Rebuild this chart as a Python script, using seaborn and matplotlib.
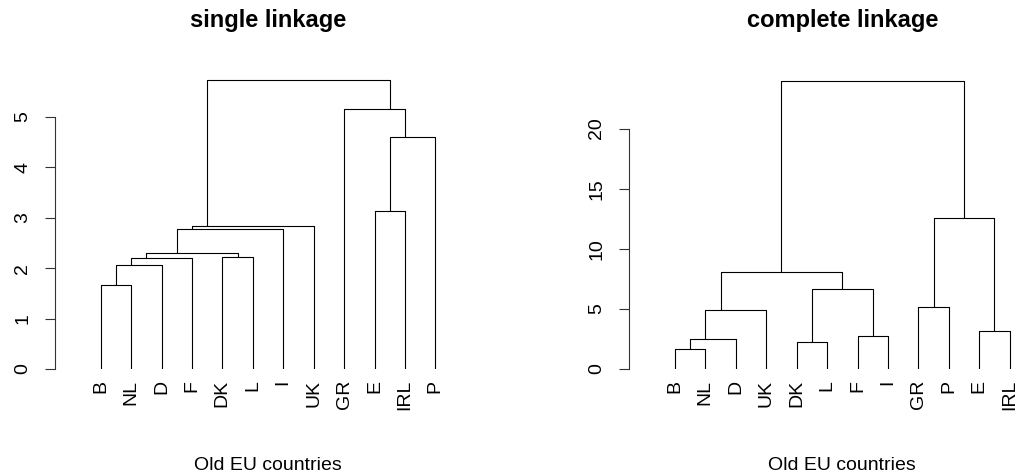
import pandas as pd
import matplotlib
matplotlib.use("Agg")
import matplotlib.pyplot as plt
import seaborn as sns

# ~~~~~~~~~~~~~~~~~~  DATA  ~~~~~~~~~~~~~~~~~~
single_labels = ["B", "NL", "D", "F", "DK", "L", "I", "UK", "GR", "E", "IRL", "P"]
# each merge joins two items: a leaf label or "m<k>" (k-th merge, 1-based)
single_left = ["B", "m1", "m2", "DK", "m3", "m5", "m6", "E", "m8", "GR", "m7"]
single_right = ["NL", "D", "F", "L", "m4", "I", "UK", "IRL", "P", "m9", "m10"]
single_height = [1.66, 2.06, 2.21, 2.22, 2.30, 2.77, 2.84, 3.14, 4.60, 5.16, 5.73]

complete_labels = ["B", "NL", "D", "UK", "DK", "L", "F", "I", "GR", "P", "E", "IRL"]
complete_left = ["B", "m1", "m2", "DK", "F", "m4", "m3", "GR", "E", "m8", "m7"]
complete_right = ["NL", "D", "UK", "L", "I", "m5", "m6", "P", "IRL", "m9", "m10"]
complete_height = [1.66, 2.47, 4.88, 2.22, 2.77, 6.65, 8.06, 5.15, 3.13, 12.58, 23.99]

single_ticks = [0, 1, 2, 3, 4, 5]
complete_ticks = [0, 5, 10, 15, 20]


# ~~~~~~~~~~~~~~~~~~  SEGMENTS  ~~~~~~~~~~~~~~~~~~
def dendro_segments(labels, left, right, height):
    # x of a cluster = mean of its leaf positions, leaves at 1..n
    pos = {lab: [i + 1] for i, lab in enumerate(labels)}
    hgt = {lab: 0.0 for lab in labels}
    rows = []
    for k, (a, b, h) in enumerate(zip(left, right, height), start=1):
        xa = sum(pos[a]) / len(pos[a])
        xb = sum(pos[b]) / len(pos[b])
        for x, y in [(xa, hgt[a]), (xa, h), (xb, h), (xb, hgt[b])]:
            rows.append({"x": x, "y": y, "seg": k})
        pos["m%d" % k] = pos[a] + pos[b]
        hgt["m%d" % k] = h
    return pd.DataFrame(rows)


sns.set_theme(style="white")
plt.rcParams["font.family"] = ["Liberation Sans", "DejaVu Sans"]
plt.rcParams["text.color"] = "black"

fig = plt.figure(figsize=(10.18, 4.75), dpi=100)
W, H = 1018, 475

panels = [
    (55, single_labels, single_left, single_right, single_height, single_ticks,
     "single linkage", 6.13),
    (629.3, complete_labels, complete_left, complete_right, complete_height,
     complete_ticks, "complete linkage", 25.7),
]

for x0, labels, left, right, height, ticks, title, ytop in panels:
    ax = fig.add_axes([x0 / W, (H - 369) / H, 426 / W, (369 - 60) / H])
    df = dendro_segments(labels, left, right, height)
    sns.lineplot(data=df, x="x", y="y", units="seg", estimator=None, sort=False,
                 color="black", lw=0.8, ax=ax)
    ax.set_xlim(-0.5, 13.5)
    ax.set_ylim(0, ytop)
    ax.set_facecolor("white")
    for s in ["top", "right", "bottom"]:
        ax.spines[s].set_visible(False)
    ax.spines["left"].set_bounds(ticks[0], ticks[-1])
    ax.spines["left"].set_color("#333333")
    ax.spines["left"].set_linewidth(0.8)
    ax.set_yticks(ticks)
    ax.set_yticklabels([str(t) for t in ticks], rotation=90, va="center")
    ax.tick_params(axis="y", left=True, length=7.2, width=0.8, color="#333333",
                   pad=10, labelsize=14, labelcolor="black")
    ax.set_xticks(range(1, len(labels) + 1))
    ax.set_xticklabels(labels, rotation=90, va="top")
    ax.tick_params(axis="x", bottom=False, length=0, pad=8, labelsize=14,
                   labelcolor="black")
    ax.set_xlabel("")
    ax.set_ylabel("")
    cx = x0 + 213
    fig.text(cx / W, 1 - 27 / H, title, ha="center", va="baseline",
             fontsize=17, fontweight="bold")
    fig.text(cx / W, 1 - 470 / H, "Old EU countries", ha="center",
             va="baseline", fontsize=14)

plt.savefig("out.png", dpi=100, facecolor="white")
